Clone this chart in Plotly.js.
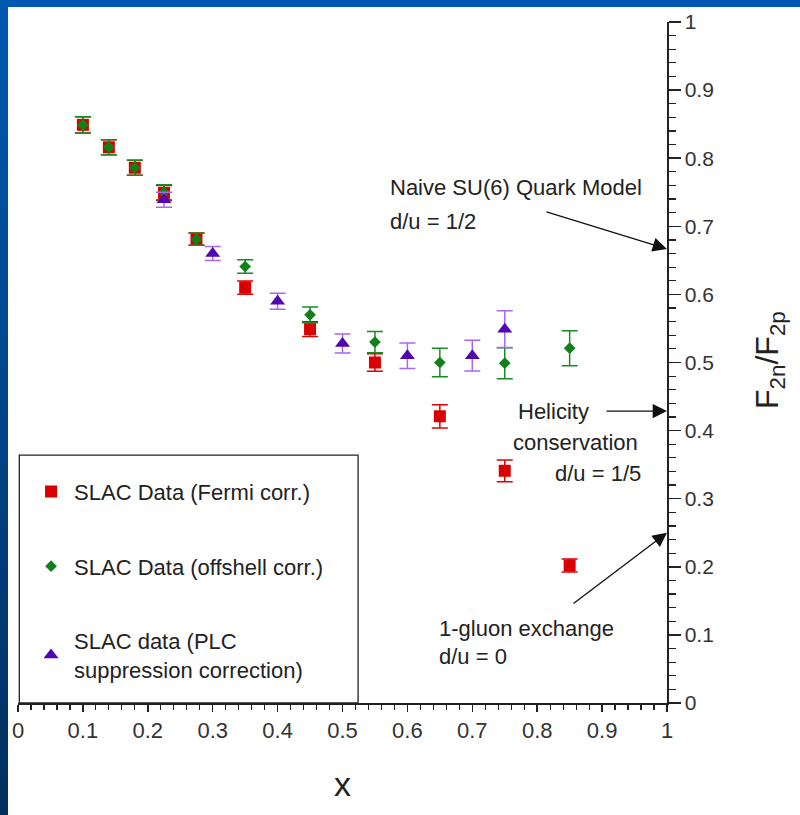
<!DOCTYPE html>
<html>
<head>
<meta charset="utf-8">
<script src="https://cdn.plot.ly/plotly-3.0.1.min.js"></script>
<style>
  html, body { margin: 0; padding: 0; }
  #wrap {
    width: 800px; height: 815px; position: relative; overflow: hidden;
    background:
      linear-gradient(to bottom, #0058b0 0%, #004488 50%, #002f5d 100%) left top / 8px 100% no-repeat,
      linear-gradient(#0058b0, #0058b0) left top / 100% 7px no-repeat,
      #ffffff;
  }
  #chart { width: 800px; height: 815px; }
</style>
</head>
<body>
<div id="wrap"><div id="chart"></div></div>
<script>
// F2n/F2p ratio from SLAC data with three different nuclear corrections
const fermiX   = [0.1, 0.14, 0.18, 0.225, 0.275, 0.35, 0.45, 0.55, 0.65, 0.75, 0.85];
const fermiY   = [0.849, 0.816, 0.786, 0.749, 0.681, 0.610, 0.549, 0.500, 0.421, 0.341, 0.202];
const fermiErr = [0.012, 0.011, 0.011, 0.011, 0.009, 0.0098, 0.011, 0.013, 0.017, 0.016, 0.0095];

const offshellX   = [0.1, 0.14, 0.18, 0.225, 0.275, 0.35, 0.45, 0.55, 0.65, 0.75, 0.85];
const offshellY   = [0.849, 0.816, 0.786, 0.750, 0.681, 0.641, 0.570, 0.530, 0.500, 0.499, 0.521];
const offshellErr = [0.012, 0.011, 0.011, 0.011, 0.009, 0.0098, 0.0115, 0.0156, 0.0208, 0.0227, 0.0257];

const plcX   = [0.225, 0.3, 0.4, 0.5, 0.6, 0.7, 0.75];
const plcY   = [0.739, 0.660, 0.590, 0.528, 0.510, 0.510, 0.549];
const plcErr = [0.011, 0.0103, 0.0117, 0.014, 0.0188, 0.0225, 0.027];

const seriesNames = [
  'SLAC Data (Fermi corr.)',
  'SLAC Data (offshell corr.)',
  'SLAC data (PLC<br>suppression correction)'
];

// Model predictions for F2n/F2p, with d/u as given
const modelLabels = [
  ['Naive SU(6) Quark Model', 'd/u = 1/2'],
  ['Helicity', 'conservation', 'd/u = 1/5'],
  ['1-gluon exchange', 'd/u = 0']
];
const modelRatio = [0.6667, 0.4286, 0.25];

const FONT = '"Liberation Sans", Arial, sans-serif';
const TXT = '#222222';

function errBar(vals, color) {
  return { type: 'data', array: vals, visible: true, color: color, thickness: 1.5, width: 8 };
}

const traces = [
  {
    x: fermiX, y: fermiY, name: seriesNames[0], type: 'scatter', mode: 'markers',
    legendgroup: 'a',
    marker: { symbol: 'square', size: 12, color: '#d80000' },
    error_y: errBar(fermiErr, '#e00000')
  },
  {
    x: offshellX, y: offshellY, name: seriesNames[1], type: 'scatter', mode: 'markers',
    legendgroup: 'b',
    marker: { symbol: 'diamond', size: 9, color: '#11801a' },
    error_y: errBar(offshellErr, '#1a8a22')
  },
  {
    x: plcX, y: plcY, name: seriesNames[2], type: 'scatter', mode: 'markers',
    legendgroup: 'c',
    marker: { symbol: 'triangle-up', size: 13, color: '#4f06b0' },
    error_y: errBar(plcErr, '#a866f5')
  }
];

const annotations = [];
// text labels for each model
const labelPos = [
  { ys: [0.757, 0.707], xs: [0.570, 0.570] },
  { ys: [0.428, 0.383, 0.337], xs: [0.767, 0.760, 0.824] },
  { ys: [0.110, 0.068], xs: [0.646, 0.646] }
];
modelLabels.forEach((lines, i) => {
  lines.forEach((t, j) => {
    annotations.push({
      x: labelPos[i].xs[j], y: labelPos[i].ys[j], xref: 'x', yref: 'y',
      text: t, showarrow: false, xanchor: 'left', yanchor: 'middle',
      font: { family: FONT, size: 22, color: TXT }
    });
  });
});
// arrows pointing at the predicted ratio on the axis
const arrowTails = [[0.812, 0.722], [0.9045, 0.4286], [0.8536, 0.1444]];
modelRatio.forEach((r, i) => {
  annotations.push({
    x: 1, y: r, xref: 'x', yref: 'y',
    ax: arrowTails[i][0], ay: arrowTails[i][1], axref: 'x', ayref: 'y',
    text: '', showarrow: true, arrowhead: 2, arrowsize: 2.2, arrowwidth: 1.3,
    arrowcolor: '#111111', standoff: 0, startstandoff: 0
  });
});
// y-axis label, rotated, right of the tick labels
annotations.push({
  x: 1.1587, y: 0.5037, xref: 'paper', yref: 'paper',
  text: 'F<sub>2n</sub>/F<sub>2p</sub>', showarrow: false, textangle: -90,
  xanchor: 'center', yanchor: 'middle',
  font: { family: FONT, size: 32, color: TXT }
});

const layout = {
  width: 800, height: 815,
  margin: { l: 18, r: 133, t: 22, b: 111.5 },
  paper_bgcolor: 'rgba(0,0,0,0)',
  plot_bgcolor: 'rgba(0,0,0,0)',
  font: { family: FONT, color: TXT },
  showlegend: true,
  legend: {
    x: 0.0155, y: 0.341, xanchor: 'left', yanchor: 'top',
    bgcolor: 'rgba(0,0,0,0)', borderwidth: 0,
    traceorder: 'grouped', tracegroupgap: 43, itemwidth: 36,
    font: { family: FONT, size: 22, color: TXT }
  },
  xaxis: {
    range: [0, 1], showgrid: false, zeroline: false,
    showline: true, linecolor: '#222222', linewidth: 1.5,
    ticks: 'outside', ticklen: 7, tickwidth: 1.5, tickcolor: '#222222',
    dtick: 0.1, tick0: 0,
    tickfont: { family: FONT, size: 22, color: '#333333' },
    minor: { dtick: 0.02, ticks: 'outside', ticklen: 5, tickwidth: 1.2, tickcolor: '#222222', showgrid: false },
    title: { text: 'x', font: { family: FONT, size: 34, color: TXT }, standoff: 30 },
    fixedrange: true
  },
  yaxis: {
    range: [0, 1], side: 'right', showgrid: false, zeroline: false,
    showline: true, linecolor: '#222222', linewidth: 1.5,
    ticks: 'outside', ticklen: 12, tickwidth: 1.5, tickcolor: '#222222',
    dtick: 0.1, tick0: 0,
    tickfont: { family: FONT, size: 21, color: '#333333' },
    minor: { dtick: 0.02, ticks: 'outside', ticklen: 7, tickwidth: 1.2, tickcolor: '#222222', showgrid: false },
    fixedrange: true
  },
  shapes: [
    { type: 'rect', xref: 'x', yref: 'y', x0: 0.002, x1: 0.524, y0: 0, y1: 0.364,
      line: { color: '#222222', width: 1.3 }, fillcolor: 'rgba(0,0,0,0)', layer: 'below' }
  ],
  annotations: annotations
};

Plotly.newPlot('chart', traces, layout, { displayModeBar: false, staticPlot: true });
</script>
</body>
</html>
